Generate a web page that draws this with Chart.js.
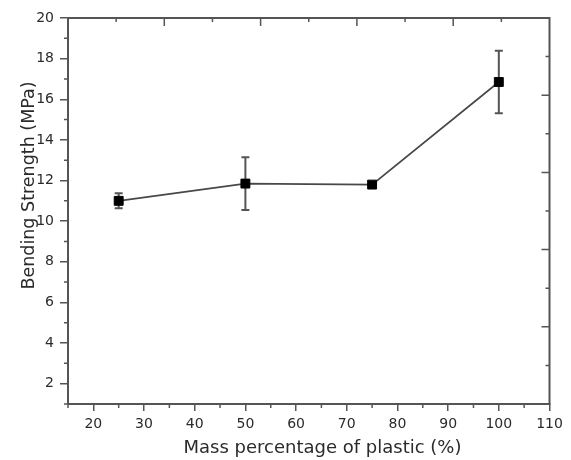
<!DOCTYPE html>
<html>
<head>
<meta charset="utf-8">
<script src="https://cdn.jsdelivr.net/npm/chart.js@4/dist/chart.umd.min.js"></script>
<style>
html,body{margin:0;padding:0;background:#fff;}
#wrap{width:571px;height:460px;}
</style>
</head>
<body>
<div id="wrap"><canvas id="c" width="571" height="460"></canvas></div>
<script>
// ---- data ----
const massPercent = [25, 50, 75, 100];
const bendingStrength = [11.0, 11.85, 11.8, 16.85];
const strengthError = [0.37, 1.3, 0.1, 1.54];
const xTickLabels = [20, 30, 40, 50, 60, 70, 80, 90, 100, 110];
const yTickLabels = [2, 4, 6, 8, 10, 12, 14, 16, 18, 20];
const xMinorTicks = [15, 25, 35, 45, 55, 65, 75, 85, 95, 105];
const yMinorTicks = [1, 3, 5, 7, 9, 11, 13, 15, 17, 19];
const xTitle = 'Mass percentage of plastic (%)';
const yTitle = 'Bending Strength (MPa)';

const AXIS = '#555';
const TEXT = '#2b2b2b';
const FONT = 'DejaVu Sans';

const decor = {
  id: 'decor',
  beforeDatasetsDraw(chart) {
    const ctx = chart.ctx;
    const xs = chart.scales.x, ys = chart.scales.y;
    ctx.save();
    ctx.strokeStyle = AXIS;
    ctx.lineWidth = 2;
    massPercent.forEach((m, i) => {
      const px = xs.getPixelForValue(m);
      const top = ys.getPixelForValue(bendingStrength[i] + strengthError[i]);
      const bot = ys.getPixelForValue(bendingStrength[i] - strengthError[i]);
      ctx.beginPath();
      ctx.moveTo(px, top); ctx.lineTo(px, bot);
      ctx.moveTo(px - 4, top); ctx.lineTo(px + 4, top);
      ctx.moveTo(px - 4, bot); ctx.lineTo(px + 4, bot);
      ctx.stroke();
    });
    ctx.restore();
  },
  afterDraw(chart) {
    const ctx = chart.ctx;
    const a = chart.chartArea;
    const xs = chart.scales.x, ys = chart.scales.y;
    ctx.save();
    ctx.strokeStyle = AXIS;
    ctx.lineWidth = 1.5;
    ctx.beginPath();
    xMinorTicks.forEach(v => {
      const px = xs.getPixelForValue(v);
      ctx.moveTo(px, a.bottom); ctx.lineTo(px, a.bottom + 4);
    });
    yMinorTicks.forEach(v => {
      const py = ys.getPixelForValue(v);
      ctx.moveTo(a.left, py); ctx.lineTo(a.left - 4, py);
    });
    for (let k = 1; k < 10; k++) {
      const len = (k % 2 === 0) ? 8 : 4;
      const px = a.left + (a.right - a.left) * k / 10;
      ctx.moveTo(px, a.top); ctx.lineTo(px, a.top + len);
      const py = a.bottom - (a.bottom - a.top) * k / 10;
      ctx.moveTo(a.right, py); ctx.lineTo(a.right - len, py);
    }
    ctx.stroke();
    ctx.lineWidth = 2;
    ctx.strokeRect(a.left, a.top, a.right - a.left, a.bottom - a.top);
    ctx.fillStyle = TEXT;
    ctx.font = '18px "' + FONT + '"';
    ctx.textAlign = 'center';
    ctx.textBaseline = 'alphabetic';
    ctx.fillText(xTitle, a.left + 254.5, a.bottom + 48.5);
    ctx.translate(a.left - 34.5, a.top + 167.5);
    ctx.rotate(-Math.PI / 2);
    ctx.font = '17.5px "' + FONT + '"';
    ctx.fillText(yTitle, 0, 0);
    ctx.restore();
  }
};

new Chart(document.getElementById('c'), {
  type: 'scatter',
  data: {
    datasets: [{
      data: massPercent.map((m, i) => ({x: m, y: bendingStrength[i]})),
      showLine: true,
      borderColor: '#484848',
      borderWidth: 1.7,
      pointStyle: 'rect',
      pointRadius: 6.3,
      pointHoverRadius: 6.3,
      pointBackgroundColor: '#000',
      pointBorderColor: '#000',
      pointBorderWidth: 1
    }]
  },
  options: {
    responsive: false,
    animation: false,
    devicePixelRatio: 1,
    layout: {padding: {left: 0, top: 18, right: 21.5, bottom: 0}},
    plugins: {legend: {display: false}, tooltip: {enabled: false}},
    scales: {
      x: {
        type: 'linear', min: 15, max: 110,
        afterBuildTicks: s => { s.ticks = xTickLabels.map(v => ({value: v})); },
        afterFit: s => { s.height = 56; },
        grid: {drawOnChartArea: false, drawTicks: true, tickLength: 7, color: AXIS, lineWidth: 1.5},
        border: {display: true, color: AXIS, width: 2},
        ticks: {color: TEXT, font: {family: FONT, size: 14}, padding: 5, maxRotation: 0, autoSkip: false}
      },
      y: {
        type: 'linear', min: 1, max: 20,
        afterBuildTicks: s => { s.ticks = yTickLabels.map(v => ({value: v})); },
        afterFit: s => { s.width = 68; },
        grid: {drawOnChartArea: false, drawTicks: true, tickLength: 8, color: AXIS, lineWidth: 1.5},
        border: {display: true, color: AXIS, width: 2},
        ticks: {color: TEXT, font: {family: FONT, size: 14}, padding: 6, autoSkip: false}
      }
    }
  },
  plugins: [decor]
});
</script>
</body>
</html>
